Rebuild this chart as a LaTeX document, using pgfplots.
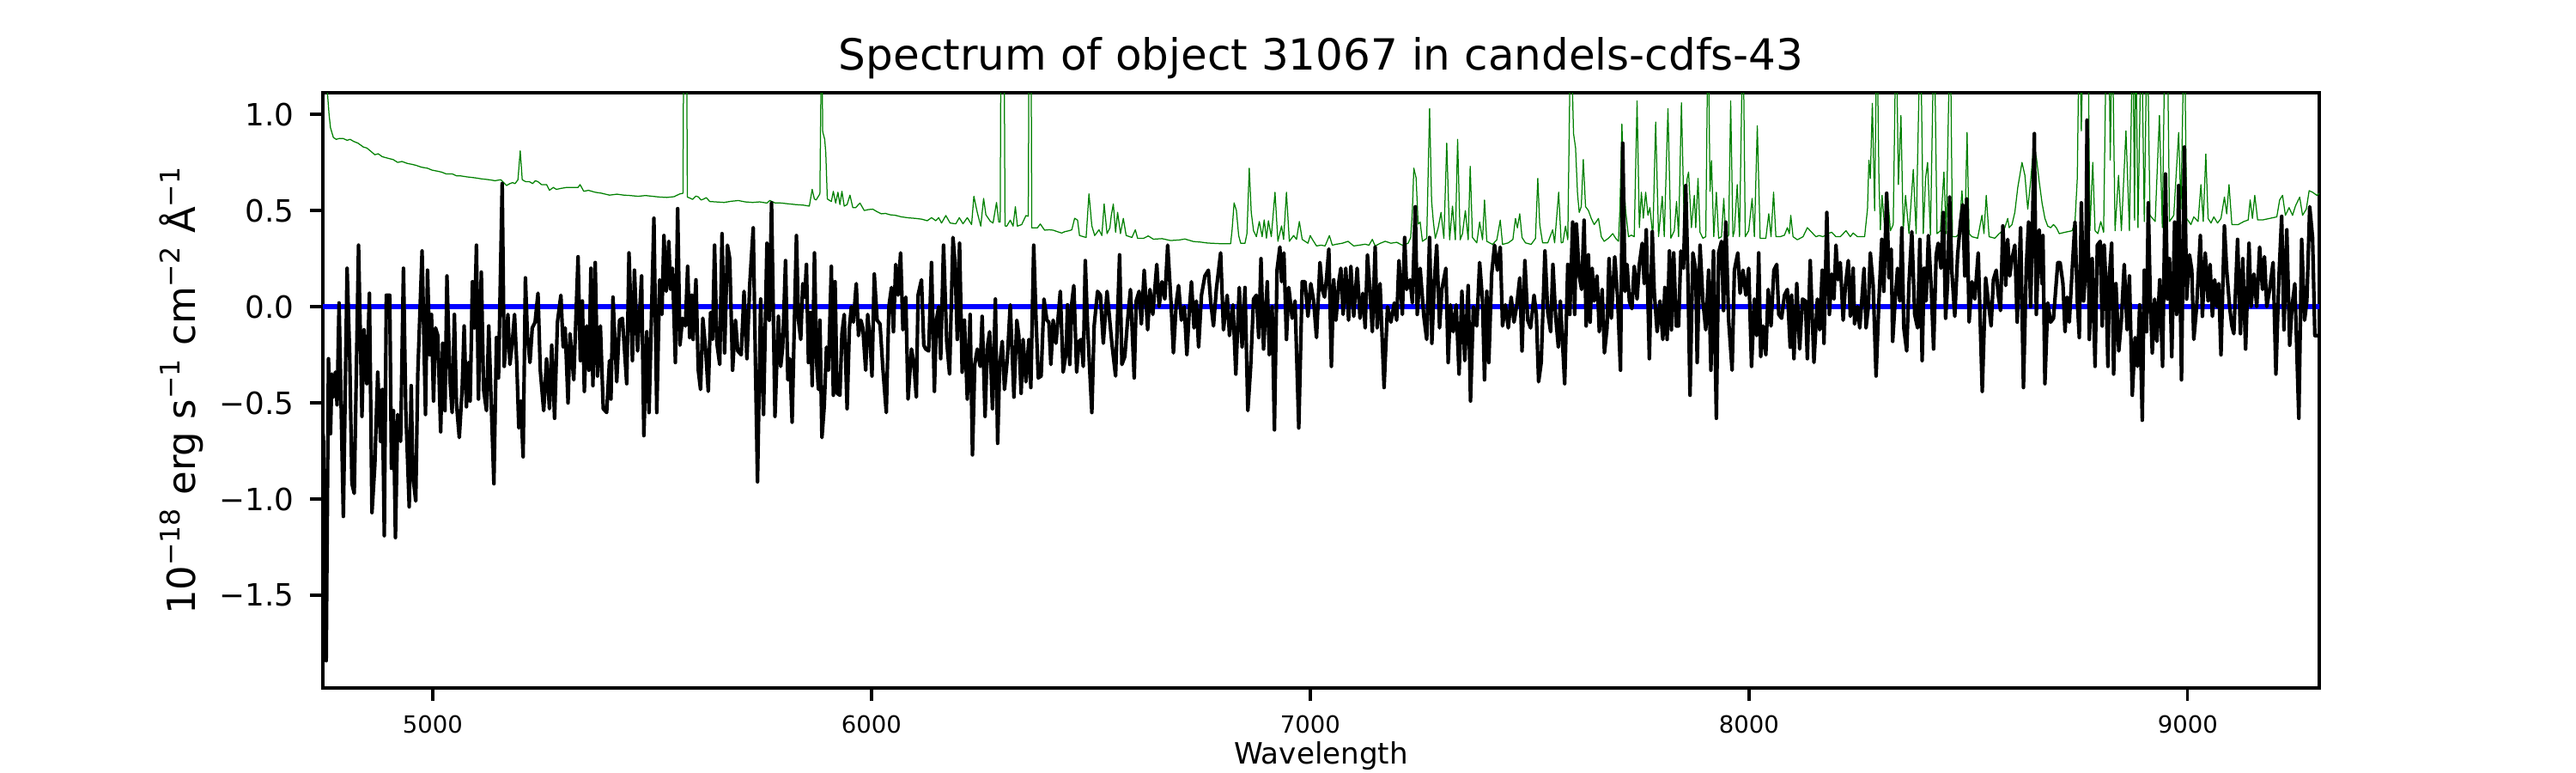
\documentclass[border=0pt]{standalone}
\usepackage{fontspec}
\setmainfont{DejaVu Sans}
\usepackage{pgfplots}
\pgfplotsset{compat=1.18}
\definecolor{mplgreen}{rgb}{0,0.5,0}
\begin{document}
\begin{tikzpicture}
\useasboundingbox (0,0) rectangle (1080pt,324pt);
\begin{axis}[
  at={(135.4pt,35.6pt)}, anchor=south west,
  scale only axis, width=837pt, height=249.5pt,
  xmin=4750, xmax=9300, ymin=-1.982, ymax=1.112,
  xtick={5000,6000,7000,8000,9000},
  xticklabels={5000,6000,7000,8000,9000},
  ytick={-1.5,-1,-0.5,0,0.5,1},
  yticklabels={−1.5,−1.0,−0.5,0.0,0.5,1.0},
  minor tick num=0,
  tick align=outside, major tick length=5.3pt,
  major tick style={line width=1.2pt, black},
  axis line style={line width=1.2pt, black},
  xtick pos=bottom, ytick pos=left,
  /pgf/number format/assume math mode=true,
  xticklabel style={font=\fontsize{9.9}{12}\selectfont, inner sep=0pt, anchor=north, yshift=-5.9pt},
  yticklabel style={font=\fontsize{12.85}{15}\selectfont, inner sep=0pt, anchor=east, xshift=-6.7pt},
  title={Spectrum of object 31067 in candels-cdfs-43},
  title style={font=\fontsize{18}{21}\selectfont, inner sep=0pt, at={(axis description cs:0.5,1.0137)}, anchor=base},
  xlabel={Wavelength},
  xlabel style={font=\fontsize{12.3}{15}\selectfont, inner sep=0pt, at={(axis description cs:0.5,-0.127)}, anchor=base},
  ylabel={10\textsuperscript{−18} erg s\textsuperscript{−1} cm\textsuperscript{−2} Å\textsuperscript{−1}},
  every axis y label/.style={at={(axis description cs:-0.0598,0.5)}, rotate=90, anchor=south, inner sep=0pt, font=\fontsize{16.2}{20}\selectfont},
]
% sky / error spectrum (green)
\addplot[mplgreen, line width=0.45pt, line join=round] table {
4752 1.5
4760.6 1.10
4763.9 1.0
4767.2 0.93
4773.7 0.88
4780.2 0.87
4788 0.875
4796.5 0.874
4805 0.865
4812 0.87
4819.3 0.86
4830 0.85
4842.2 0.83
4850 0.825
4858 0.81
4868.3 0.79
4876 0.795
4885 0.78
4900.9 0.77
4910 0.765
4920.4 0.75
4930 0.755
4942 0.745
4953.1 0.74
4962 0.735
4975 0.725
4988 0.72
4998.7 0.71
5010 0.705
5020 0.70
5031.3 0.69
5045 0.69
5055 0.68
5064 0.68
5078 0.675
5096.6 0.67
5110 0.665
5129.2 0.66
5142 0.655
5155.3 0.66
5162 0.645
5168.3 0.63
5176 0.64
5182 0.645
5187.9 0.64
5194.4 0.66
5199.6 0.81
5204.2 0.66
5212 0.65
5220.5 0.65
5228 0.64
5234 0.655
5240.1 0.65
5248 0.635
5259.6 0.635
5266.2 0.605
5275 0.62
5282 0.61
5292.3 0.615
5305 0.62
5315.1 0.62
5331.4 0.62
5336 0.635
5344.4 0.60
5355 0.605
5370.5 0.595
5385 0.59
5403.1 0.58
5420 0.585
5435.8 0.58
5450 0.578
5468.4 0.574
5485 0.578
5501 0.574
5518 0.57
5533.6 0.568
5550 0.572
5563 0.586
5570.5 0.59
5573 1.8
5578 1.8
5580.5 0.57
5586 0.565
5592.3 0.558
5600 0.575
5605.4 0.571
5611.9 0.555
5618 0.56
5623.6 0.567
5631.5 0.547
5645 0.545
5664.1 0.542
5680 0.548
5696.7 0.552
5712 0.545
5729.3 0.542
5745 0.545
5761.9 0.539
5768.4 0.552
5780 0.54
5794.5 0.539
5810 0.535
5827.1 0.531
5845 0.528
5858.5 0.523
5865 0.61
5870 0.56
5874 0.555
5882.6 0.587
5886.5 1.5
5889 0.91
5893.5 0.87
5896 0.80
5899.5 0.56
5908.7 0.547
5913.2 0.60
5918.5 0.539
5923.7 0.595
5928.2 0.531
5932.8 0.60
5938 0.523
5944.6 0.531
5951.1 0.58
5957.6 0.515
5964.1 0.515
5973.9 0.539
5983.7 0.50
5993 0.505
6003.3 0.507
6012 0.495
6022.8 0.483
6032 0.485
6042.4 0.478
6055 0.475
6068.5 0.467
6085 0.462
6101.1 0.459
6115 0.455
6127.2 0.447
6137 0.463
6146.8 0.447
6153.3 0.463
6159.8 0.435
6169.6 0.474
6179.4 0.435
6192.4 0.431
6200.3 0.463
6208.7 0.431
6218.5 0.463
6228.3 0.427
6233.5 0.574
6241.3 0.49
6249.2 0.419
6255.7 0.563
6260.9 0.478
6270.7 0.445
6277.2 0.435
6285.1 0.542
6290.3 0.44
6293.5 0.44
6295.5 1.6
6302 1.6
6304.5 0.42
6308.5 0.419
6316.4 0.45
6322.9 0.419
6328.1 0.52
6332.7 0.419
6342.5 0.427
6352.2 0.474
6357.5 0.47
6359.5 1.6
6363.5 1.6
6365.5 0.41
6368.6 0.41
6378.3 0.41
6384.9 0.43
6394.7 0.398
6405 0.40
6414.2 0.398
6424 0.39
6433.8 0.383
6440.4 0.39
6450.1 0.395
6456.7 0.40
6463.2 0.46
6469.8 0.45
6474.3 0.37
6489.3 0.36
6495.8 0.587
6502.4 0.42
6508.9 0.37
6518.7 0.40
6525.2 0.37
6530.4 0.534
6537 0.38
6543.5 0.41
6546.7 0.475
6551.3 0.534
6556.5 0.387
6561.1 0.491
6567.6 0.38
6574.1 0.459
6580.6 0.37
6593.7 0.36
6601.5 0.40
6606.7 0.355
6619.8 0.355
6630.9 0.368
6642.6 0.351
6662.2 0.354
6681.8 0.344
6701.3 0.347
6714.4 0.352
6733.9 0.339
6750 0.336
6766.6 0.331
6792.6 0.328
6818.7 0.328
6822 0.40
6826.6 0.54
6831.8 0.50
6837 0.37
6841.6 0.33
6851.4 0.33
6855.9 0.38
6861.1 0.72
6865.7 0.49
6870.9 0.395
6877.4 0.364
6884 0.443
6890.5 0.364
6895.1 0.451
6900.3 0.356
6904.8 0.447
6911.4 0.364
6919.8 0.595
6926.4 0.34
6934.8 0.42
6939.4 0.35
6945.9 0.595
6952.5 0.34
6962.2 0.37
6968.8 0.35
6975.3 0.443
6981.8 0.35
6994.9 0.33
7000.1 0.37
7005 0.35
7014.4 0.316
7025 0.32
7034 0.316
7043.8 0.37
7050.3 0.32
7060 0.325
7073.1 0.33
7086.2 0.34
7099.2 0.316
7112 0.32
7125.3 0.325
7134 0.32
7141.6 0.35
7148.1 0.316
7160 0.33
7171 0.34
7184 0.33
7197.1 0.335
7210.1 0.32
7223.2 0.33
7229 0.36
7232.9 0.50
7236.2 0.72
7241.4 0.67
7246 0.43
7250.6 0.44
7255.8 0.34
7265.6 0.355
7272.1 1.03
7276.7 0.55
7280.6 0.445
7285.1 0.355
7291.7 0.41
7298.2 0.49
7304.7 0.355
7311.2 0.85
7317.8 0.348
7324.3 0.523
7330.8 0.348
7336 0.87
7341.9 0.348
7347.1 0.38
7353.6 0.50
7360.1 0.348
7364.7 0.73
7369.9 0.36
7379.7 0.332
7386.2 0.44
7392.8 0.348
7397.3 0.555
7402.5 0.34
7415.6 0.324
7425.4 0.348
7433.2 0.45
7438.4 0.324
7451.5 0.332
7462 0.35
7467.8 0.459
7472.3 0.41
7477.6 0.483
7482.8 0.36
7490.6 0.332
7503.6 0.324
7513.4 0.355
7518.7 0.667
7523.2 0.427
7529.7 0.332
7541.5 0.332
7552.6 0.40
7557.1 0.332
7566.3 0.595
7572.1 0.332
7576 0.335
7581.9 0.419
7587.1 0.348
7593.7 1.5
7600.2 0.90
7604.8 0.826
7609.3 0.587
7613.2 0.49
7617.8 0.52
7622.4 0.765
7627.6 0.52
7634.1 0.50
7640.6 0.459
7647.2 0.427
7652.4 0.443
7657 0.459
7663.5 0.364
7670 0.34
7679.8 0.356
7689.6 0.38
7696.1 0.356
7702.6 0.34
7705.9 0.507
7710.4 0.95
7714.3 0.667
7718.9 0.50
7725.4 0.364
7732 0.372
7738.5 0.364
7745 1.07
7750.2 0.411
7754.8 0.595
7759.3 0.46
7764.6 0.595
7769.8 0.475
7774.3 0.515
7780.9 0.364
7787.4 0.96
7793.9 0.364
7802.4 0.574
7807 0.364
7815.4 1.03
7822 0.356
7829.8 0.395
7835 0.547
7839.6 0.364
7846.1 1.06
7852.6 0.411
7859.2 0.667
7862.4 0.70
7868.9 0.411
7875.5 0.579
7878.7 0.411
7883.9 0.667
7888.5 0.387
7895 0.356
7901.6 0.364
7906.8 1.5
7911.3 0.60
7914.6 0.76
7919.8 0.364
7925.7 0.595
7930.9 0.356
7937.4 0.364
7942.6 0.563
7947.2 0.356
7953.7 0.372
7958.3 1.07
7963.5 0.364
7966.8 0.395
7973.3 0.635
7978.5 0.364
7986.4 1.5
7991.6 0.364
7999.4 0.395
8007.2 0.563
8012.4 0.364
8019 0.94
8025.5 0.356
8038.5 0.356
8045.1 0.483
8050.3 0.364
8056.1 0.595
8061.4 0.364
8071.2 0.364
8080.9 0.372
8087.5 0.411
8092 0.38
8095.3 0.475
8100.5 0.364
8110.3 0.348
8123.3 0.364
8133.1 0.411
8142.9 0.387
8152.7 0.364
8160 0.37
8169 0.364
8178.8 0.38
8188.6 0.387
8198.3 0.364
8208.1 0.364
8221.2 0.395
8231 0.364
8237.5 0.383
8247.3 0.364
8263.6 0.364
8270.1 0.507
8273.4 0.762
8276.6 0.667
8281.2 1.057
8286.4 0.499
8291.6 1.5
8296.2 0.667
8299.5 0.40
8303.4 0.579
8309.2 0.411
8315.8 0.587
8322.3 0.395
8328.8 0.427
8335.3 1.5
8340.6 0.635
8346.4 0.994
8351.6 0.395
8356.9 0.579
8364.7 0.38
8374.5 0.714
8381 0.38
8390.8 1.5
8397.3 0.38
8402.5 0.667
8407.1 0.75
8413.6 0.372
8422.1 1.5
8428.6 0.38
8436.4 0.395
8444.3 0.70
8449.5 0.38
8458.6 1.5
8463.8 0.364
8472.3 0.364
8478.8 0.38
8485.4 0.603
8491.9 0.38
8497.1 0.906
8501.7 0.38
8508.2 0.364
8521.2 0.356
8531 0.475
8535.6 0.38
8540.8 0.579
8547.3 0.364
8560.4 0.356
8570.2 0.38
8578.6 0.395
8583.2 0.411
8589.7 0.459
8593 0.411
8599.5 0.427
8606 0.491
8612.6 0.619
8622.3 0.75
8628.9 0.683
8635.4 0.507
8641.9 0.651
8648.4 0.826
8654.9 0.778
8661.5 0.651
8668 0.539
8674.5 0.459
8681 0.419
8687.6 0.411
8694.1 0.427
8700.6 0.411
8707.1 0.38
8720.2 0.387
8736.6 0.395
8743.1 0.443
8748.3 0.667
8752.9 1.5
8757.5 0.914
8762.7 1.5
8767.9 1.5
8772.5 1.5
8777 0.395
8783.6 0.75
8788.8 0.395
8795.3 0.38
8801.8 0.443
8808.3 0.387
8814.9 1.5
8820.1 1.5
8823.4 0.762
8827.9 1.5
8834.4 0.395
8842.3 0.683
8848.8 0.395
8859.2 0.914
8867.1 0.395
8874.9 1.5
8878.8 0.45
8881.4 1.5
8886.6 0.411
8894.5 1.5
8901 0.443
8907.5 1.5
8914 0.475
8925.8 0.443
8935.5 0.994
8942.1 0.411
8948.6 1.5
8953.2 1.5
8958.4 0.443
8968.2 0.475
8979.3 0.906
8984.5 0.507
8992.3 1.5
8997.5 0.459
9007.3 0.427
9013.8 0.467
9023.6 0.443
9030.1 0.635
9035.4 0.443
9041.2 0.794
9046.4 0.459
9053 0.435
9059.5 0.467
9068 0.435
9075.8 0.459
9083.6 0.57
9088.8 0.483
9094.1 0.635
9100.6 0.427
9114.9 0.427
9128 0.443
9137.8 0.451
9142.3 0.555
9147.5 0.459
9152.8 0.579
9159.3 0.451
9170.4 0.451
9186.7 0.459
9203 0.467
9209.5 0.555
9216.1 0.579
9222.6 0.475
9231 0.515
9238.9 0.475
9245.4 0.523
9255.2 0.57
9261.7 0.475
9270.2 0.507
9276.7 0.603
9284.5 0.595
9294.3 0.579
9300 0.59
};
% zero line (blue)
\addplot[blue, line width=2.2pt] coordinates {(4700,0) (9350,0)};
% object spectrum (black)
\addplot[black, line width=1.5pt, line join=round] table {
4750 -0.66
4751 -0.68
4757.4 -1.84
4762.6 -0.27
4767.2 -0.66
4770.4 -0.35
4773.7 -0.47
4778.2 -0.34
4782.2 -0.51
4786.7 0.02
4796.5 -1.09
4805 0.20
4810.9 -0.25
4816.1 -0.92
4821.3 -0.97
4831.1 0.32
4838.9 -0.57
4843.5 -0.12
4850 -0.40
4855.9 0.07
4861.7 -1.07
4868.3 -0.82
4874.8 -0.34
4881.3 -0.70
4885.2 -0.43
4889.8 -1.19
4894.4 0.06
4902.2 0.06
4906.1 -0.84
4910.7 -0.54
4915.2 -1.20
4920.4 -0.56
4927 -0.70
4933.5 0.20
4938.7 -0.53
4946.6 -1.04
4951.1 -0.41
4955 -0.88
4961.5 -1.01
4966.1 -0.35
4975.9 0.29
4983.7 -0.56
4988.3 0.19
4993.5 -0.25
4997.4 -0.04
5002 -0.49
5006.5 -0.11
5011.8 -0.15
5018.3 -0.65
5022.9 -0.19
5028.1 -0.54
5032.6 0.16
5039.2 -0.37
5044.4 -0.55
5049.6 -0.04
5054.2 -0.50
5060.7 -0.68
5067.2 -0.43
5071.8 -0.10
5077 -0.52
5081.6 -0.29
5085.5 -0.49
5090.7 0.13
5095.3 -0.11
5099.8 0.32
5104.4 -0.48
5110.9 0.18
5116.1 -0.43
5122.7 -0.54
5127.9 -0.10
5133.1 -0.47
5139.6 -0.92
5145.5 -0.16
5150.1 -0.37
5158.5 0.64
5163.1 -0.31
5171.6 -0.04
5176.1 -0.30
5181.4 -0.19
5186.6 -0.04
5191.8 -0.30
5196.4 -0.63
5200.9 -0.49
5206.2 -0.78
5211.4 0.15
5216 -0.15
5221.8 -0.29
5227 -0.11
5233.5 -0.08
5240.1 0.07
5245.3 -0.33
5253.1 -0.54
5259.6 -0.27
5266.2 -0.53
5271.4 -0.20
5277.9 -0.58
5284.4 -0.08
5292.3 0.06
5297.5 -0.21
5302 -0.11
5308.6 -0.50
5313.1 -0.14
5321.6 -0.38
5331.4 0.26
5336.6 -0.28
5341.2 0.03
5345.7 -0.44
5351 -0.10
5356.2 -0.33
5360.7 0.20
5365.3 -0.41
5370.5 0.23
5375.7 -0.36
5382.3 -0.10
5388.8 -0.53
5396.6 -0.55
5403.1 -0.28
5406.4 -0.48
5411 0.05
5419.5 -0.39
5426 -0.07
5432.5 -0.06
5442.3 -0.40
5447.5 0.28
5455.3 -0.28
5459.9 0.19
5467.1 -0.23
5476.2 0.16
5481.4 -0.67
5488 -0.13
5493.2 -0.55
5504.3 0.46
5510.8 -0.55
5517.3 0.14
5522.5 -0.04
5527.1 0.37
5532.3 0.08
5538.2 0.34
5542.1 0.09
5546.7 0.20
5553.2 -0.29
5558.4 0.51
5563.6 -0.20
5569.5 -0.06
5576 -0.10
5581.2 0.21
5585.8 -0.16
5590.4 0.06
5593.6 -0.17
5600.1 0.14
5605.4 -0.33
5610.6 -0.43
5615.8 -0.06
5621.7 -0.21
5628.2 -0.44
5633.4 -0.03
5638 -0.17
5642.5 0.32
5647.8 -0.19
5654.3 -0.30
5659.5 0.38
5665.4 -0.24
5671.9 0.32
5677.1 0.25
5683.6 -0.33
5690.2 -0.07
5695.4 -0.23
5703.2 -0.25
5709.7 0.08
5716.3 -0.27
5722.8 0.12
5730.6 0.41
5735.8 -0.31
5740.4 -0.91
5747.6 0.04
5754.1 -0.56
5761.9 0.33
5767.1 -0.07
5772.4 0.54
5780.2 -0.57
5788 -0.05
5793.2 -0.31
5797.8 -0.21
5804.3 0.24
5809.5 -0.38
5814.1 -0.27
5819.3 -0.60
5823.9 -0.13
5829.1 0.37
5833.7 -0.07
5838.9 -0.17
5843.5 0.12
5848 0.05
5851.9 0.22
5856.5 -0.29
5861.1 -0.03
5865 -0.41
5870.2 0.28
5874.8 -0.28
5879.3 -0.43
5882.6 -0.07
5887.2 -0.68
5892.4 -0.52
5897.6 -0.21
5902.2 -0.33
5908.7 0.21
5913.2 -0.46
5917.2 0.13
5921.7 -0.45
5928.2 -0.46
5932.8 -0.14
5938 -0.04
5944.6 -0.53
5949.8 -0.11
5954.3 0.00
5958.9 -0.08
5965.4 0.12
5970.6 -0.15
5975.9 -0.07
5980.4 -0.11
5987 -0.33
5991.5 -0.04
5996.7 -0.17
6001.3 -0.36
6006.5 0.17
6013 -0.07
6019.6 -0.09
6026.1 -0.32
6033.9 -0.55
6039.8 0.00
6045.7 0.10
6050.2 -0.13
6055.4 0.22
6060.7 0.06
6066.5 0.28
6071.8 -0.12
6078.3 0.05
6083.5 -0.48
6091.3 -0.22
6096.5 -0.29
6102.4 -0.47
6106.3 0.06
6114.1 0.14
6119.4 -0.20
6123.9 -0.22
6130.5 -0.23
6137 0.23
6143.5 -0.44
6148.1 -0.07
6153.3 0.00
6157.9 -0.27
6164.4 0.32
6171.6 -0.18
6178.1 -0.35
6185.9 0.36
6190.5 0.23
6195.7 -0.17
6200.9 0.33
6206.8 -0.34
6212 -0.07
6218.5 -0.48
6225 -0.04
6230.3 -0.77
6235.5 -0.30
6241.3 -0.22
6247.9 -0.31
6252.4 -0.05
6259 -0.57
6264.2 -0.21
6269.4 -0.13
6275.9 -0.53
6282.5 0.04
6287.7 -0.71
6292.2 -0.31
6298.1 -0.18
6303.3 -0.43
6309.8 -0.27
6316.4 0.01
6324.8 -0.47
6331.4 -0.07
6335.9 -0.15
6341.2 -0.45
6345.7 -0.17
6352.2 -0.39
6358.8 -0.17
6363.3 -0.42
6369.9 0.32
6375.1 -0.06
6380.3 -0.37
6386.8 -0.36
6393.3 0.04
6399.9 -0.07
6404.4 -0.08
6409 -0.30
6414.2 -0.07
6420.7 -0.19
6430.5 0.08
6437 -0.34
6443.6 -0.24
6446.9 0.01
6452.1 -0.30
6456.7 0.02
6461.3 0.11
6467.8 -0.34
6473 -0.18
6478.2 -0.17
6482.8 -0.31
6487.4 0.24
6492.6 -0.10
6497.8 -0.34
6502.4 -0.55
6507.6 -0.10
6515.4 0.08
6521.9 0.06
6528.5 -0.19
6537 0.08
6541.5 -0.03
6548 -0.19
6556.5 -0.36
6565.6 0.27
6570.9 -0.30
6577.4 -0.26
6583.9 -0.07
6590.4 0.09
6598.9 -0.37
6603.5 0.03
6610 0.08
6615.2 -0.09
6621.7 0.19
6629.6 -0.12
6634.8 0.09
6641.3 -0.04
6650.4 0.22
6655.7 0.00
6662.2 0.13
6668.7 0.04
6675.2 0.32
6683.1 0.01
6688.3 -0.24
6694.8 0.02
6700 0.11
6706.5 -0.07
6713.1 0.00
6719 -0.25
6724.2 -0.03
6729.4 0.13
6735.2 -0.11
6740.5 0.03
6745.7 -0.21
6752.2 0.06
6760 0.16
6767.9 0.19
6773.1 0.03
6779.6 -0.10
6786.1 0.09
6795.9 0.28
6802.4 -0.12
6810.9 0.06
6816.1 -0.15
6824 0.01
6830.5 -0.35
6838.3 0.10
6844.8 -0.21
6851.4 0.10
6857.9 -0.54
6864.4 -0.31
6870.9 0.04
6877.4 0.06
6882.7 -0.16
6887.9 0.25
6893.7 -0.22
6902.2 0.13
6906.8 -0.25
6913.3 0.00
6918.5 -0.64
6924.4 0.19
6930.9 0.31
6934.8 0.13
6940.1 0.28
6945.9 -0.17
6951.2 0.10
6959 -0.06
6965.5 0.03
6974 -0.63
6981.8 0.13
6988.3 0.13
6994.9 -0.05
7001.4 0.12
7007.9 0.03
7014.4 -0.16
7022.3 0.23
7027.5 0.09
7032.7 0.05
7037.3 0.15
7042.5 0.30
7048.3 -0.31
7053.6 0.14
7058.8 -0.07
7065.3 0.13
7069.9 0.20
7075.1 -0.04
7081 0.20
7087.5 -0.07
7092.7 0.21
7099.2 -0.05
7107.1 0.20
7113.6 -0.06
7120.1 0.07
7125.3 -0.11
7130.5 0.27
7136.4 0.08
7141.6 -0.13
7148.1 0.31
7152.7 -0.11
7159.2 0.12
7168.4 -0.42
7176.2 0.00
7184 -0.08
7191.8 0.02
7197.1 -0.07
7202.3 0.24
7210.1 -0.04
7215.3 0.36
7219.9 0.09
7227.7 0.14
7232.9 0.02
7239.5 0.52
7244 -0.04
7250.6 0.20
7259 -0.05
7265.6 -0.17
7272.1 0.36
7277.3 -0.19
7283.2 0.14
7288.4 0.32
7294.9 -0.11
7300.1 0.09
7309.3 0.20
7314.5 -0.29
7319.7 0.01
7326.2 -0.13
7332.7 0.01
7339.3 -0.35
7345.8 0.08
7352.3 -0.28
7360.1 0.11
7365.4 -0.49
7371.9 0.00
7379.7 -0.10
7386.2 0.23
7392.8 0.03
7397.3 -0.38
7402.5 0.08
7407.1 -0.29
7413.6 0.17
7420.2 0.32
7426.7 0.19
7433.2 0.31
7438.4 -0.10
7444.9 0.01
7451.5 -0.11
7458 0.05
7464.5 -0.08
7471 0.01
7477.6 0.15
7482.8 -0.23
7489.3 0.24
7495.8 -0.07
7502.3 -0.11
7510.2 0.06
7515.4 -0.04
7520.6 -0.39
7526.5 -0.29
7535 0.29
7541.5 -0.03
7548 -0.13
7553.2 0.22
7559.1 -0.04
7565.6 -0.21
7570.2 0.03
7580 -0.40
7587.1 0.22
7591.7 -0.04
7598.2 0.44
7602.8 -0.04
7606.7 0.43
7613.2 0.16
7618.5 0.09
7624.3 0.45
7628.9 -0.10
7634.1 0.27
7638 -0.08
7642.6 0.20
7647.2 0.03
7653.7 0.16
7658.9 -0.13
7665.4 0.09
7670.6 -0.24
7676.5 -0.11
7681.1 0.25
7686.3 -0.06
7694.1 0.26
7700.6 0.05
7707.2 -0.33
7712.4 0.85
7717.6 0.08
7722.2 0.22
7727.4 0.03
7733.3 -0.01
7738.5 0.21
7745 0.04
7750.2 0.22
7756.7 0.33
7761.3 0.12
7765.9 0.40
7773 -0.27
7779.6 0.39
7784.1 0.08
7790.7 -0.13
7797.2 0.03
7803.7 -0.17
7808.3 0.10
7813.5 -0.17
7818.7 0.29
7823.3 -0.12
7828.5 0.28
7834.4 -0.10
7839.6 -0.10
7844.8 0.29
7850.7 0.20
7855.9 0.63
7860.5 0.20
7865.7 -0.46
7872.2 0.28
7878.7 0.19
7882 -0.29
7888.5 0.32
7895 0.03
7901.6 -0.12
7908.1 0.19
7913.3 -0.33
7919.2 0.29
7925.7 -0.58
7930.9 0.28
7937.4 0.34
7942 -0.02
7947.2 0.44
7953.7 -0.07
7961.6 -0.33
7966.8 0.19
7974.6 0.28
7979.8 0.07
7986.4 0.19
7992.9 0.06
7999.4 0.20
8005.9 -0.31
8012.4 0.04
8017.7 -0.15
8022.2 0.28
8026.8 -0.26
8032 -0.10
8038.5 -0.25
8043.8 0.09
8050.3 -0.10
8056.8 0.19
8063.3 0.22
8067.9 -0.04
8074.4 -0.06
8080.9 0.06
8087.5 0.09
8094 -0.21
8097.2 0.06
8102.5 -0.27
8109 0.12
8115.5 -0.22
8122 0.04
8128.6 0.03
8133.1 -0.27
8139.6 0.24
8148.1 -0.29
8155.9 0.04
8161.2 -0.12
8167 0.19
8171 -0.19
8177.5 0.49
8183.3 -0.04
8188.6 0.17
8193.8 0.04
8198.3 0.32
8202.9 0.14
8208.1 0.23
8214.7 -0.07
8219.9 0.11
8226.4 0.24
8231 -0.05
8237.5 0.20
8240.7 -0.09
8247.3 0.00
8252.5 -0.11
8257.1 0.03
8262.3 0.20
8266.8 -0.11
8272.1 0.00
8276.6 0.28
8283.1 0.11
8289.7 -0.36
8296.2 0.03
8302.7 0.35
8307.3 0.08
8313.8 0.59
8319 0.15
8324.2 0.30
8327.5 -0.18
8333.4 0.04
8338.6 0.20
8343.8 0.03
8348.4 0.41
8352.9 -0.11
8359.5 -0.23
8364.7 0.12
8371.2 0.39
8377.7 -0.04
8384.3 -0.11
8389.5 0.35
8394.7 -0.28
8399.3 0.20
8403.8 0.03
8409 0.37
8415.6 0.09
8420.8 -0.22
8426.7 0.27
8431.2 0.33
8437.7 0.20
8443 0.49
8448.2 -0.06
8452.7 0.12
8457.3 0.57
8462.5 0.18
8469.1 -0.05
8475.6 0.27
8482.1 0.44
8487.3 0.53
8491.9 0.16
8496.4 0.56
8501.7 -0.08
8508.2 0.13
8514.7 0.04
8522.5 0.28
8531.7 -0.44
8539.5 0.15
8545.4 0.03
8551.9 -0.10
8557.1 0.14
8563.6 0.19
8568.2 0.06
8573.4 -0.02
8578.6 0.42
8585.2 0.11
8589.7 0.35
8594.3 0.16
8599.5 0.25
8606 0.32
8611.3 -0.08
8619.1 0.41
8625.6 -0.42
8632.1 0.21
8637.3 0.44
8641.9 0.00
8645.2 0.32
8650.4 0.90
8654.9 -0.04
8661.5 0.40
8668 0.12
8670 0.37
8674.5 -0.40
8681 0.02
8687.6 -0.08
8694.1 -0.06
8703.9 0.23
8709.1 0.23
8715.6 0.12
8720.3 -0.13
8724.9 0.05
8730.1 -0.08
8736.6 0.19
8743.1 0.44
8748.3 0.03
8752.9 -0.16
8757.5 0.54
8762.7 0.03
8767.9 0.22
8770.5 0.97
8775.7 -0.17
8782.3 0.25
8788.8 -0.31
8794 0.32
8800.5 0.34
8805.1 -0.10
8809.6 0.32
8813.6 0.12
8818.1 -0.31
8821.4 0.16
8826.6 0.33
8831.2 -0.35
8836.4 0.12
8842.9 -0.23
8848.8 -0.07
8855.3 0.22
8861.8 -0.12
8867.1 0.16
8873.6 -0.46
8880.1 -0.16
8885.3 -0.31
8890.5 0.01
8896.4 -0.59
8901 0.19
8906.2 -0.13
8910.1 0.54
8914.7 0.04
8919.2 -0.24
8924.5 0.04
8929.7 -0.18
8936.2 0.14
8942.7 -0.31
8949.2 0.69
8953.8 0.04
8958.4 0.25
8963.6 -0.26
8970.1 0.44
8974.7 -0.04
8979.3 0.63
8985.8 -0.38
8992.3 0.83
8997.5 0.04
9004 0.27
9009.3 0.19
9013.8 -0.17
9020.3 0.00
9028.8 0.37
9033.4 -0.05
9039.9 0.28
9046.4 0.03
9051 0.22
9056.2 -0.05
9061.4 0.14
9066.7 0.00
9070.6 0.12
9075.8 -0.25
9083.6 0.42
9088.8 0.19
9095.4 0.00
9100.6 -0.10
9105.1 -0.14
9113.6 0.35
9120.1 -0.14
9125.4 0.25
9131.9 -0.22
9139.7 0.33
9144.3 0.00
9150.8 0.17
9157.3 0.00
9163.9 0.31
9170.4 0.09
9174.9 0.26
9180.2 0.00
9186.7 0.09
9194.5 0.23
9201 -0.35
9207.6 0.14
9214.1 0.47
9219.3 -0.12
9225.8 0.40
9232.4 -0.20
9237.6 0.00
9244.1 0.12
9253.2 -0.58
9259.7 0.35
9266.3 -0.07
9271.5 0.03
9278 0.52
9284.5 0.36
9289.7 -0.15
9297.6 -0.15
};
\end{axis}
\end{tikzpicture}
\end{document}
